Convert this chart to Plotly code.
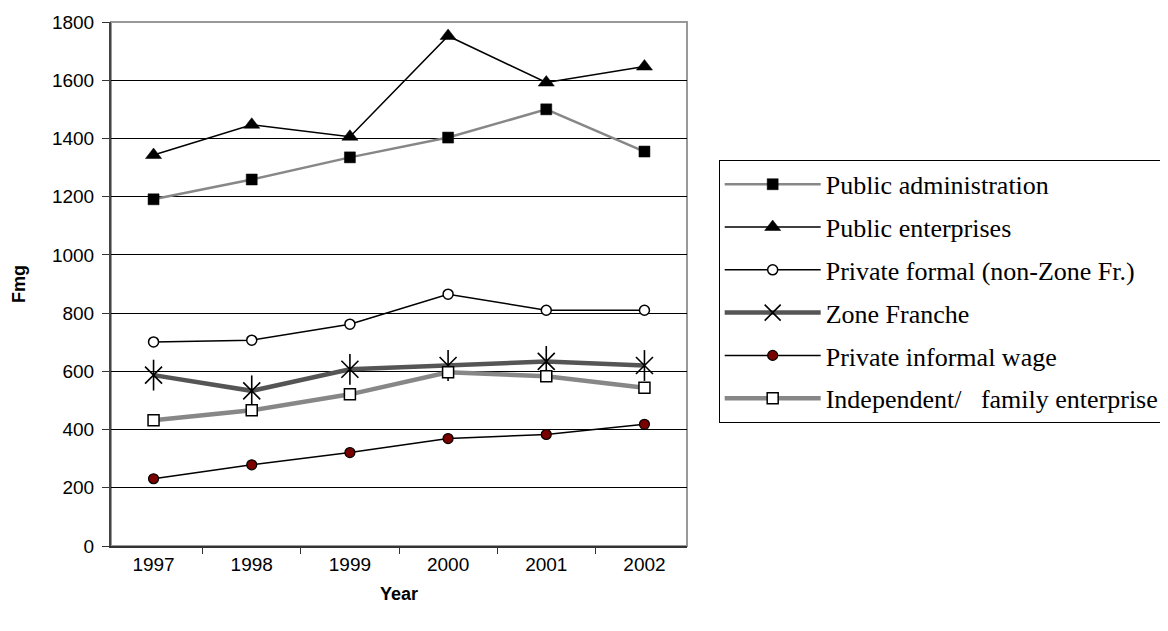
import plotly.graph_objects as go

years = ["1997", "1998", "1999", "2000", "2001", "2002"]
public_admin = [1191, 1259, 1335, 1403, 1500, 1355]
public_ent = [1343, 1447, 1406, 1752, 1592, 1647]
private_formal = [701, 707, 762, 865, 810, 810]
zone_franche = [587, 533, 607, 620, 634, 620]
private_informal = [231, 279, 321, 369, 383, 418]
independent = [432, 466, 521, 597, 583, 544]

y_ticks = [0, 200, 400, 600, 800, 1000, 1200, 1400, 1600, 1800]

fig = go.Figure()

def add(name, y, lc, lw, sym, ms, mfill, mline="black", mlw=1.5, group=None, show=True):
    fig.add_trace(go.Scatter(
        x=years, y=y, name=name, mode="lines+markers",
        line=dict(color=lc, width=lw),
        marker=dict(symbol=sym, size=ms, color=mfill, line=dict(color=mline, width=mlw)),
        legendgroup=group or name, showlegend=show,
    ))

add("Public administration", public_admin, "#878787", 2.5, "square", 11, "black", mlw=0.5)
add("Public enterprises", public_ent, "black", 1.5, "triangle-up", 14, "black", mlw=0.5)
add("Private formal (non-Zone Fr.)", private_formal, "black", 1.5, "circle", 10, "white", mlw=1.5)
add("Zone Franche", zone_franche, "#555555", 4.5, "x-thin-open", 17, "black", mlw=1.6)
fig.add_trace(go.Scatter(
    x=years, y=zone_franche, mode="markers", name="Zone Franche",
    marker=dict(symbol="line-ns-open", size=22, color="black", line=dict(color="black", width=1.6)),
    legendgroup="Zone Franche", showlegend=False,
))
add("Private informal wage", private_informal, "black", 1.5, "circle", 10, "#7a0000", mlw=1.2)
add("Independent/   family enterprise", independent, "#878787", 4.5, "square", 11, "white", mlw=1.5)

W = 1200
fig.update_layout(
    width=W, height=623,
    paper_bgcolor="white", plot_bgcolor="white",
    margin=dict(l=103, r=W - 679, t=14, b=85, autoexpand=False),
    showlegend=True,
    legend=dict(
        x=1.055, y=0.737, xanchor="left", yanchor="top",
        bordercolor="black", borderwidth=1,
        font=dict(family="Liberation Serif", size=26, color="black"),
        tracegroupgap=6, itemwidth=96,
        entrywidth=460, entrywidthmode="pixels",
    ),
    shapes=[dict(type="rect", xref="paper", yref="paper", x0=0, x1=1, y0=0, y1=1,
                 line=dict(color="#999999", width=2), layer="below")],
)
fig.update_xaxes(
    type="category", tickson="boundaries", ticks="outside", ticklen=6, tickcolor="#333333",
    showline=True, linecolor="#333333", linewidth=1.5, showgrid=False,
    tickfont=dict(family="Liberation Sans", size=19, color="black"),
    title=dict(text="<b>Year</b>", font=dict(family="Liberation Sans", size=18, color="black"), standoff=14),
)
fig.update_yaxes(
    range=[0, 1800], tickvals=y_ticks, ticks="outside", ticklen=7, tickcolor="#333333",
    showline=True, linecolor="#444444", linewidth=2, showgrid=True, gridcolor="black", gridwidth=1,
    zeroline=False, ticklabelstandoff=4,
    tickfont=dict(family="Liberation Sans", size=19, color="black"),
    title=dict(text="<b>Fmg</b>", font=dict(family="Liberation Sans", size=18, color="black"), standoff=22),
)

fig.write_html("out.html")
